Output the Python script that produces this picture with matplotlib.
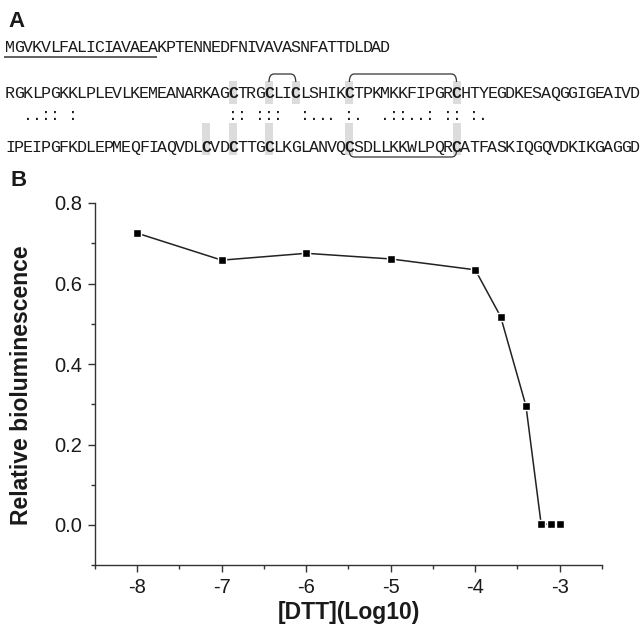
"""Panel A sequence alignment and panel B DTT dose response."""

import matplotlib

matplotlib.use("Agg")
import matplotlib.pyplot as plt
from matplotlib.patches import PathPatch, Rectangle
from matplotlib.path import Path
from matplotlib.ticker import MultipleLocator

# panel A: signal peptide line and the aligned pair
SIGNAL_SEQ = "MGVKVLFALICIAVAEAKPTENNEDFNIVAVASNFATTDLDAD"
SIGNAL_UNDERLINE = 17
SEQ_TOP = "RGKLPGKKLPLEVLKEMEANARKAGCTRGCLICLSHIKCTPKMKKFIPGRCHTYEGDKESAQGGIGEAIVD"
MATCHES = "  ..:: :" + " " * 17 + ":: :::  :... :.  .::..: :: :."
SEQ_BOTTOM = "IPEIPGFKDLEPMEQFIAQVDLCVDCTTGCLKGLANVQCSDLLKKWLPQRCATFASKIQGQVDKIKGAGGD"
TOP_BRACKETS = [(29, 32), (38, 50)]
BOTTOM_BRACKETS = [(38, 50)]

# panel B: relative bioluminescence vs log10 [DTT]
dtt_log = [-8, -7, -6, -5, -4, -3.7, -3.4, -3.22, -3.1, -3.0]
rel_lum = [0.725, 0.658, 0.675, 0.661, 0.634, 0.518, 0.296, 0.002, 0.002, 0.002]
x_ticks = [-8, -7, -6, -5, -4, -3]
y_ticks = [0.0, 0.2, 0.4, 0.6, 0.8]

W, H = 642, 632
X0, CW = 10, 8.93
SEQ_FONT = "Liberation Mono"
INK = "#1a1a1a"


def _bracket(ax, x1, x2, y_end, y_bar, r=5):
    verts = [(x1, y_end), (x1, y_bar), (x1 + r, y_bar),
             (x2 - r, y_bar), (x2, y_bar), (x2, y_end)]
    codes = [Path.MOVETO, Path.CURVE3, Path.CURVE3,
             Path.LINETO, Path.CURVE3, Path.CURVE3]
    ax.add_patch(PathPatch(Path(verts, codes), fill=False, lw=0.9, ec="#333333"))


def _seq_row(ax, seq, y, bold_c=False, highlight=None):
    for i, ch in enumerate(seq):
        if ch == " ":
            continue
        x = X0 + CW * i
        is_c = bold_c and ch == "C"
        if is_c and highlight is not None:
            ax.add_patch(Rectangle((x - 4, highlight[0]), 8, highlight[1] - highlight[0],
                                   fc="#dcdcdc", ec="none", zorder=0))
        ax.text(x, y, ch, family=SEQ_FONT, fontsize=12, color=INK,
                fontweight="bold" if is_c else "normal",
                ha="center", va="baseline", zorder=2)


def main() -> None:
    fig = plt.figure(figsize=(W / 100, H / 100), dpi=100)

    over = fig.add_axes([0, 0, 1, 1])
    over.set_xlim(0, W)
    over.set_ylim(H, 0)
    over.axis("off")

    # panel A
    over.text(8, 26.7, "A", family="Liberation Sans", fontsize=16, fontweight="bold",
              color=INK, va="baseline")
    _seq_row(over, SIGNAL_SEQ, 52.5)
    over.plot([X0 - 6, X0 + CW * (SIGNAL_UNDERLINE - 1) + 4.5], [56.7, 56.7],
              color="#444444", lw=1.2, solid_capstyle="butt")

    _seq_row(over, SEQ_TOP, 98.3, bold_c=True, highlight=(81, 104))
    _seq_row(over, MATCHES, 120)
    _seq_row(over, SEQ_BOTTOM, 151.7, bold_c=True, highlight=(123, 155))

    for a, b in TOP_BRACKETS:
        _bracket(over, X0 + CW * a, X0 + CW * b, 82, 74)
    for a, b in BOTTOM_BRACKETS:
        _bracket(over, X0 + CW * a, X0 + CW * b, 151, 157)

    over.text(11, 186.5, "B", family="Liberation Sans", fontsize=16, fontweight="bold",
              color=INK, va="baseline")

    # panel B
    left, right, top, bottom = 95, 602, 203, 565.25
    ax = fig.add_axes([left / W, 1 - bottom / H, (right - left) / W, (bottom - top) / H])
    ax.set_facecolor("none")
    ax.plot(dtt_log, rel_lum, color="#222222", lw=1.1, marker="s", ms=6.2,
            mfc="black", mec="white", mew=1.0, clip_on=False)

    ax.set_xlim(-8.5, -2.5)
    ax.set_ylim(-0.1, 0.8)
    ax.set_xticks(x_ticks)
    ax.set_xticklabels([str(t) for t in x_ticks])
    ax.set_yticks(y_ticks)
    ax.set_yticklabels([f"{v:.1f}" for v in y_ticks])
    ax.xaxis.set_minor_locator(MultipleLocator(0.5))
    ax.yaxis.set_minor_locator(MultipleLocator(0.1))

    for side in ("top", "right"):
        ax.spines[side].set_visible(False)
    for side in ("left", "bottom"):
        ax.spines[side].set_linewidth(1.0)
        ax.spines[side].set_color("#333333")

    ax.tick_params(which="major", direction="out", length=5, width=1.0,
                   color="#333333", labelsize=14.5, labelcolor=INK, pad=4.5)
    ax.tick_params(which="minor", direction="out", length=3, width=1.0, color="#333333")
    for lab in ax.get_xticklabels() + ax.get_yticklabels():
        lab.set_family("Liberation Sans")

    over.text(22, 385, "Relative bioluminescence", family="Liberation Sans",
              fontsize=16.5, fontweight="bold", color=INK, rotation=90,
              ha="center", va="center")
    over.text((left + right) / 2, 619, "[DTT](Log10)", family="Liberation Sans",
              fontsize=16.5, fontweight="bold", color=INK, ha="center", va="baseline")

    fig.savefig("out.png", dpi=100)
    plt.close(fig)


if __name__ == "__main__":
    main()
